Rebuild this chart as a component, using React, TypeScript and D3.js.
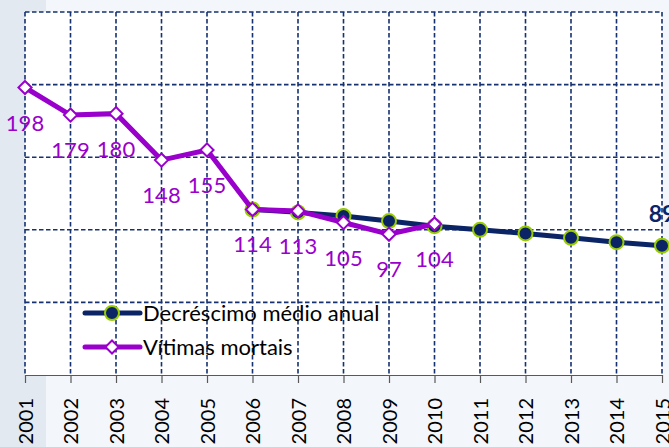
import * as d3 from "d3";
import { useEffect, useRef } from "react";

// dados
const years = ["2001", "2002", "2003", "2004", "2005", "2006", "2007", "2008",
  "2009", "2010", "2011", "2012", "2013", "2014", "2015"];
const vitimasYears = ["2001", "2002", "2003", "2004", "2005", "2006", "2007", "2008", "2009", "2010"];
const vitimas = [198, 179, 180, 148, 155, 114, 113, 105, 97, 104];
const trendYears = ["2006", "2007", "2008", "2009", "2010", "2011", "2012", "2013", "2014", "2015"];
const trend = [114, 112, 109.5, 106, 102.5, 100, 97.5, 94.5, 91.5, 89];
const yTicks = [0, 50, 100, 150, 200, 250];
const legendLabels = ["Decréscimo médio anual", "Vítimas mortais"];

const W = 669;
const H = 447;
const FONT = "Lato, 'Open Sans', sans-serif";
const NAVY = "#0a2466";
const PURPLE = "#9900cc";
const GREEN = "#99cc00";

const App = () => {
  const ref = useRef<SVGSVGElement>(null);

  useEffect(() => {
    const svg = d3.select(ref.current);
    svg.selectAll("*").remove();

    const margin = { top: 12, left: 25, right: 7, bottom: 72 };

    // fundo
    svg.append("rect").attr("width", W).attr("height", H).attr("fill", "#f3f6fa");
    svg.append("rect").attr("width", 46).attr("height", H).attr("fill", "#e3e9f1");

    const x = d3.scalePoint<string>()
      .domain(years)
      .range([margin.left, W - margin.right]);
    const y = d3.scaleLinear()
      .domain([0, 250])
      .range([H - margin.bottom, margin.top]);

    svg.append("rect")
      .attr("x", margin.left)
      .attr("y", margin.top)
      .attr("width", W - margin.right - margin.left)
      .attr("height", H - margin.bottom - margin.top)
      .attr("fill", "#ffffff");

    // grelha tracejada
    const grid = svg.append("g")
      .attr("stroke", "#163170")
      .attr("stroke-width", 1.6)
      .attr("stroke-dasharray", "4.5,2.5");
    grid.selectAll(".gx")
      .data(years)
      .enter()
      .append("line")
      .attr("x1", d => x(d)!)
      .attr("x2", d => x(d)!)
      .attr("y1", y(250))
      .attr("y2", y(0));
    grid.selectAll(".gy")
      .data(yTicks.filter(d => d > 0))
      .enter()
      .append("line")
      .attr("x1", margin.left)
      .attr("x2", W - margin.right)
      .attr("y1", d => y(d))
      .attr("y2", d => y(d));

    // eixo x
    const xAxis = d3.axisBottom(x).tickSize(8).tickSizeOuter(0);
    const gx = svg.append("g")
      .attr("transform", `translate(0, ${y(0)})`)
      .call(xAxis);
    gx.select(".domain").attr("stroke", "#595959").attr("stroke-width", 1.2);
    gx.selectAll(".tick line").attr("stroke", "#595959").attr("stroke-width", 1.2);
    gx.selectAll("text")
      .attr("transform", "rotate(-90)")
      .attr("x", -23)
      .attr("y", 0)
      .attr("dy", "0.35em")
      .style("text-anchor", "end")
      .style("font-family", FONT)
      .style("font-size", "20px")
      .style("fill", "#000");

    const line = d3.line<[string, number]>()
      .x(d => x(d[0])!)
      .y(d => y(d[1]));

    const trendData: [string, number][] = trendYears.map((t, i) => [t, trend[i]]);
    const vitData: [string, number][] = vitimasYears.map((t, i) => [t, vitimas[i]]);

    // decréscimo médio anual
    svg.append("path")
      .datum(trendData)
      .attr("d", line)
      .attr("fill", "none")
      .attr("stroke", NAVY)
      .attr("stroke-width", 5);
    svg.selectAll(".dotT")
      .data(trendData)
      .enter()
      .append("circle")
      .attr("cx", d => x(d[0])!)
      .attr("cy", d => y(d[1]))
      .attr("r", 7)
      .attr("fill", NAVY)
      .attr("stroke", GREEN)
      .attr("stroke-width", 2);

    // vítimas mortais
    svg.append("path")
      .datum(vitData)
      .attr("d", line)
      .attr("fill", "none")
      .attr("stroke", PURPLE)
      .attr("stroke-width", 5);
    const diamond = d3.symbol().type(d3.symbolDiamond2).size(110);
    svg.selectAll(".dotV")
      .data(vitData)
      .enter()
      .append("path")
      .attr("d", diamond)
      .attr("transform", d => `translate(${x(d[0])}, ${y(d[1])})`)
      .attr("fill", "#fff")
      .attr("stroke", PURPLE)
      .attr("stroke-width", 2);

    svg.selectAll(".lblV")
      .data(vitData)
      .enter()
      .append("text")
      .attr("x", d => x(d[0])!)
      .attr("y", d => y(d[1]) + 43)
      .attr("text-anchor", "middle")
      .style("font-family", FONT)
      .style("font-size", "22px")
      .style("fill", PURPLE)
      .text(d => d[1]);

    const last = trendData[trendData.length - 1];
    svg.append("text")
      .attr("x", x(last[0])!)
      .attr("y", y(last[1]) - 24)
      .attr("text-anchor", "middle")
      .style("font-family", FONT)
      .style("font-size", "23px")
      .style("font-weight", "bold")
      .style("fill", NAVY)
      .text(last[1]);

    // legenda
    const legend = svg.append("g").attr("transform", "translate(85, 313)");
    legendLabels.forEach((lbl, i) => {
      const g = legend.append("g").attr("transform", `translate(0, ${i * 34})`);
      g.append("line")
        .attr("x1", 0).attr("x2", 55)
        .attr("stroke", i === 0 ? NAVY : PURPLE)
        .attr("stroke-width", 5)
        .attr("stroke-linecap", "round");
      if (i === 0) {
        g.append("circle").attr("cx", 27).attr("r", 7)
          .attr("fill", NAVY).attr("stroke", GREEN).attr("stroke-width", 2);
      } else {
        g.append("path").attr("d", diamond).attr("transform", "translate(27, 0)")
          .attr("fill", "#fff").attr("stroke", PURPLE).attr("stroke-width", 2);
      }
      g.append("text")
        .attr("x", 58)
        .attr("dy", "0.35em")
        .style("font-family", FONT)
        .style("font-size", "22px")
        .style("fill", "#000")
        .text(lbl);
    });
  }, []);

  return (
    <svg ref={ref} width={W} height={H}
      style={{ position: "fixed", left: 0, top: 0, display: "block" }} />
  );
};

export default App;
